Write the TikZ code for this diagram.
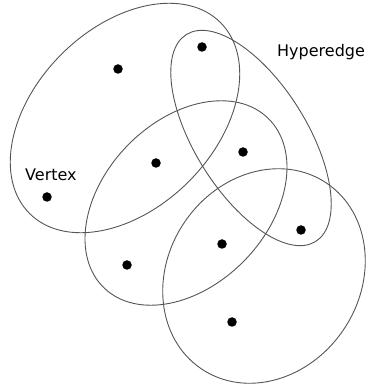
\documentclass[tikz,border=0pt]{standalone}
\usepackage{fontspec}
\setmainfont{DejaVu Sans}
\definecolor{edgegray}{RGB}{85,85,85}
\tikzset{
    vertex/.style={circle, fill=black, inner sep=0pt, minimum size=9.5pt},
    hedge/.style={draw=edgegray, line width=0.9pt},
    lbl/.style={anchor=base west, inner sep=0pt, font=\fontsize{16pt}{19pt}\selectfont}
}
\begin{document}
\begin{tikzpicture}[x=1pt, y=1pt]
        \useasboundingbox (0, 0) rectangle (368, 384);
        \coordinate (e1) at (125, 266);
        \coordinate (e2) at (251, 246);
        \coordinate (e3) at (186, 181);
        \coordinate (e4) at (264, 108);
        \draw [hedge, rotate around={45:(e1)}] (e1) ellipse [x radius=135pt, y radius=90pt];
        \draw [hedge, rotate around={-58:(e2)}] (e2) ellipse [x radius=122pt, y radius=56pt];
        \draw [hedge, rotate around={46:(e3)}] (e3) ellipse [x radius=118pt, y radius=82pt];
        \draw [hedge, rotate around={56:(e4)}] (e4) ellipse [x radius=112pt, y radius=96pt];
        \node [vertex] (v1) at (118, 315) {};
        \node [vertex] (v2) at (202, 337) {};
        \node [vertex] (v3) at (156, 221) {};
        \node [vertex] (v4) at (243, 232) {};
        \node [vertex] (v5) at (47, 187) {};
        \node [vertex] (v6) at (127, 119) {};
        \node [vertex] (v7) at (222, 140) {};
        \node [vertex] (v8) at (301, 154) {};
        \node [vertex] (v9) at (232, 62) {};
        \node [lbl] (hyperedge) at (277, 327) {Hyperedge};
        \node [lbl] (vertexlbl) at (25, 204) {Vertex};
    \end{tikzpicture}
\end{document}
